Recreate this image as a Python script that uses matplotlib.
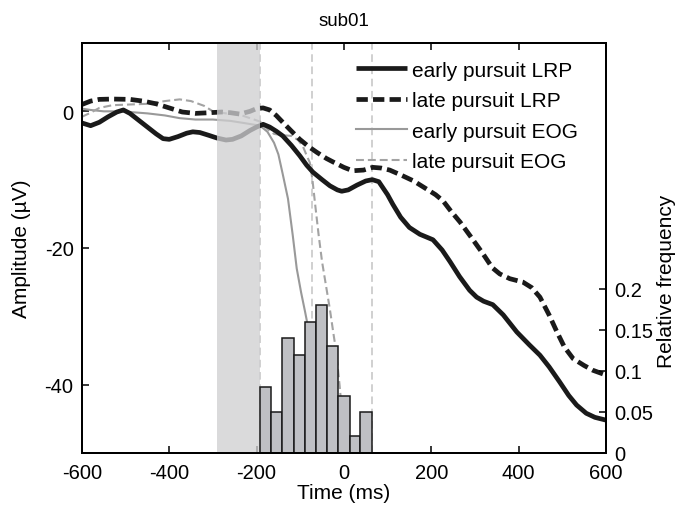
import numpy as np
import matplotlib
matplotlib.use("Agg")
import matplotlib.pyplot as plt

plt.rcParams["font.family"] = ["Liberation Sans", "DejaVu Sans"]
plt.rcParams["axes.unicode_minus"] = False

# --------------------------------------------------------------------------- #
# Data
# --------------------------------------------------------------------------- #
t_early_lrp = [-600, -580, -560, -540, -520, -505, -490, -470, -450, -430, -414, -400,
               -380, -360, -346, -330, -310, -291, -270, -255, -235, -215, -200, -185,
               -170, -155, -140, -120, -101, -85, -71, -50, -32, -15, -5, 10, 30, 50,
               65, 80, 100, 112, 130, 150, 174, 204, 225, 243, 265, 288, 304, 320,
               341, 365, 396, 425, 449, 470, 494, 515, 533, 555, 575, 600]
v_early_lrp = [-1.7, -2.1, -1.6, -0.8, -0.1, 0.2, -0.3, -1.3, -2.3, -3.3, -4.0, -4.1,
               -3.7, -3.2, -3.0, -3.1, -3.5, -3.9, -4.2, -4.1, -3.6, -2.8, -2.3, -1.9,
               -2.3, -2.9, -3.6, -5.0, -6.5, -7.9, -8.9, -10.0, -10.9, -11.5, -11.7,
               -11.5, -10.8, -10.2, -10.0, -10.3, -12.2, -13.6, -15.5, -17.0, -18.0,
               -18.8, -20.3, -22.0, -24.2, -26.2, -27.2, -27.8, -28.3, -29.8, -32.3,
               -34.2, -35.7, -37.4, -39.6, -41.6, -43.0, -44.2, -44.8, -45.2]

t_late_lrp = [-600, -580, -560, -530, -490, -460, -430, -400, -370, -340, -307, -280,
              -260, -238, -215, -200, -185, -170, -155, -140, -120, -101, -80, -62,
              -40, -25, 0, 20, 45, 66, 85, 105, 130, 160, 190, 210, 227, 245, 266,
              290, 318, 340, 357, 380, 410, 430, 449, 470, 488, 505, 525, 550, 570, 600]
v_late_lrp = [1.0, 1.5, 1.75, 1.8, 1.75, 1.5, 1.1, 0.5, -0.1, -0.3, -0.2, -0.1,
              -0.2, -0.4, 0.0, 0.4, 0.5, 0.2, -0.6, -1.6, -2.9, -4.1, -5.2, -6.0,
              -6.9, -7.4, -8.2, -8.7, -8.6, -8.2, -8.3, -8.6, -9.3, -10.2, -11.4,
              -12.2, -13.1, -14.6, -16.2, -18.3, -20.8, -22.9, -23.8, -24.5, -25.0,
              -25.8, -27.2, -29.8, -32.3, -34.5, -36.2, -37.2, -37.9, -38.6]

t_early_eog = [-600, -580, -550, -520, -490, -450, -410, -376, -340, -300, -260, -230,
               -192, -175, -160, -150, -140, -128, -117, -108, -98, -89, -85, -75,
               -65, -55, -45]
v_early_eog = [0.4, 0.2, 0.0, 0.0, -0.1, -0.3, -0.6, -1.0, -1.2, -1.2, -1.4, -1.7,
               -2.1, -3.0, -4.6, -6.3, -9.2, -12.8, -18.2, -23.0, -26.5, -29.3, -30.6,
               -35.0, -41.0, -48.0, -56.0]

t_late_eog = [-600, -580, -560, -530, -490, -450, -410, -376, -350, -320, -300, -270,
              -238, -215, -192, -175, -160, -140, -120, -105, -94, -85, -78, -72, -66,
              -58, -50, -41, -32, -24, -18, -10, 0, 10]
v_late_eog = [-0.8, -0.2, 0.5, 0.9, 1.0, 1.1, 1.5, 1.75, 1.5, 0.8, 0.0, -0.3,
              -0.5, -1.0, -1.5, -2.6, -3.3, -3.5, -3.6, -4.2, -5.1, -6.5, -7.5, -10.0,
              -13.5, -18.0, -22.0, -25.5, -29.0, -32.5, -35.0, -40.0, -47.0, -55.0]

hist_edges = [-192, -166, -141, -115, -90, -64, -38, -13, 13, 38, 64]
hist_freq = [0.08, 0.05, 0.14, 0.12, 0.16, 0.18, 0.13, 0.07, 0.02, 0.05]

baseline_win = (-290, -192)
marker_times = [-192, -72, 64]

x_ticks = [-600, -400, -200, 0, 200, 400, 600]
y_ticks = [-40, -20, 0]
freq_ticks = [0, 0.05, 0.1, 0.15, 0.2]
freq_labels = ["0", "0.05", "0.1", "0.15", "0.2"]

# --------------------------------------------------------------------------- #
# Plot
# --------------------------------------------------------------------------- #
fig = plt.figure(figsize=(6.94, 5.06), dpi=100)
ax = fig.add_axes([0.118, 0.103, 0.755, 0.810])

for tm in marker_times:
    ax.axvline(tm, color="#c4c4c4", lw=1.1, ls=(0, (5, 3)), zorder=1)

ax.plot(t_early_lrp, v_early_lrp, color="#1a1a1a", lw=3.4,
        solid_capstyle="butt", label="early pursuit LRP", zorder=3)
ax.plot(t_late_lrp, v_late_lrp, color="#1a1a1a", lw=3.4,
        ls=(0, (2.4, 1.1)), label="late pursuit LRP", zorder=3)
ax.plot(t_early_eog, v_early_eog, color="#999999", lw=1.5,
        label="early pursuit EOG", zorder=2)
ax.plot(t_late_eog, v_late_eog, color="#a3a3a3", lw=1.5,
        ls=(0, (3.8, 1.9)), label="late pursuit EOG", zorder=2)

ax.axvspan(*baseline_win, color="#cfcfd1", alpha=0.77, lw=0, zorder=4)

ax.set_xlim(-600, 600)
ax.set_ylim(-50, 10)
ax.set_xticks(x_ticks)
ax.set_yticks(y_ticks)
ax.tick_params(direction="in", length=5, width=1.1, labelsize=14.5,
               top=True, right=False, pad=6)
ax.tick_params(axis="x", pad=7)
for sp in ax.spines.values():
    sp.set_linewidth(1.4)
ax.set_xlabel("Time (ms)", fontsize=15, labelpad=1)
ax.set_ylabel("Amplitude (µV)", fontsize=15, labelpad=10)
ax.set_title("sub01", fontsize=13.5, pad=13)

ax.legend(loc="upper left", bbox_to_anchor=(0.524, 0.957), frameon=False,
          fontsize=15, handlelength=2.45, handletextpad=0.2, labelspacing=0.55,
          borderpad=0, borderaxespad=0)

# histogram of pursuit onsets on a second y-axis
ax2 = ax.twinx()
ax2.bar(hist_edges[:-1], hist_freq, width=np.diff(hist_edges), align="edge",
        color="#bfc0c4", edgecolor="#1a1a1a", lw=1.1)
ax2.set_ylim(0, 0.5)
ax2.set_yticks(freq_ticks)
ax2.set_yticklabels(freq_labels)
ax2.tick_params(direction="in", length=5, width=1.1, labelsize=14.5, pad=6)
ax2.set_ylabel("Relative frequency", fontsize=15)
ax2.yaxis.set_label_coords(1.097, 0.42)
for sp in ax2.spines.values():
    sp.set_linewidth(1.4)

fig.savefig("out.png", dpi=100)
